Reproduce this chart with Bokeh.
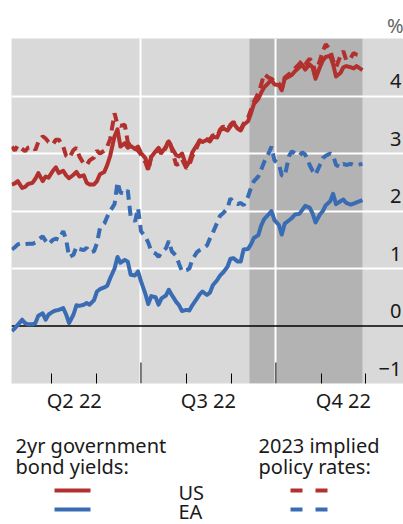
import pandas as pd
from bokeh.plotting import figure
from bokeh.models import Range1d, FixedTicker, BoxAnnotation, Span, ColumnDataSource
from bokeh.layouts import column
from bokeh.embed import file_html
from bokeh.resources import INLINE
from bokeh.core.properties import value

# ---------------- data ----------------
dates = [
    "2022-04-04", "2022-04-06", "2022-04-08",
    "2022-04-11", "2022-04-13", "2022-04-15",
    "2022-04-18", "2022-04-20", "2022-04-22",
    "2022-04-25", "2022-04-27", "2022-04-29",
    "2022-05-02", "2022-05-04", "2022-05-06",
    "2022-05-09", "2022-05-11", "2022-05-13",
    "2022-05-16", "2022-05-18", "2022-05-20",
    "2022-05-23", "2022-05-25", "2022-05-27",
    "2022-05-30", "2022-06-01", "2022-06-03",
    "2022-06-06", "2022-06-08", "2022-06-10",
    "2022-06-13", "2022-06-15", "2022-06-17",
    "2022-06-20", "2022-06-22", "2022-06-24",
    "2022-06-27", "2022-06-29", "2022-07-01",
    "2022-07-04", "2022-07-06", "2022-07-08",
    "2022-07-11", "2022-07-13", "2022-07-15",
    "2022-07-18", "2022-07-20", "2022-07-22",
    "2022-07-25", "2022-07-27", "2022-07-29",
    "2022-08-01", "2022-08-03", "2022-08-05",
    "2022-08-08", "2022-08-10", "2022-08-12",
    "2022-08-15", "2022-08-17", "2022-08-19",
    "2022-08-22", "2022-08-24", "2022-08-26",
    "2022-08-29", "2022-08-31", "2022-09-02",
    "2022-09-05", "2022-09-07", "2022-09-09",
    "2022-09-12", "2022-09-14", "2022-09-16",
    "2022-09-19", "2022-09-21", "2022-09-23",
    "2022-09-26", "2022-09-28", "2022-09-30",
    "2022-10-03", "2022-10-05", "2022-10-07",
    "2022-10-10", "2022-10-12", "2022-10-14",
    "2022-10-17", "2022-10-19", "2022-10-21",
    "2022-10-24", "2022-10-26", "2022-10-28",
    "2022-10-31", "2022-11-02", "2022-11-04",
    "2022-11-07", "2022-11-09", "2022-11-11",
    "2022-11-14", "2022-11-16", "2022-11-18",
    "2022-11-21", "2022-11-23", "2022-11-25",
    "2022-11-29",
]

us_2yr = [
    2.46, 2.48, 2.52, 2.40, 2.42, 2.47, 2.49, 2.56, 2.66, 2.52, 2.60, 2.58,
    2.70, 2.76, 2.66, 2.70, 2.62, 2.57, 2.63, 2.68, 2.60, 2.62, 2.49, 2.46,
    2.46, 2.52, 2.64, 2.68, 2.80, 2.96, 3.30, 3.42, 3.12, 3.18, 3.10, 3.13,
    3.08, 3.12, 3.01, 2.92, 2.74, 2.94, 3.04, 3.10, 3.01, 3.12, 3.21, 3.10,
    2.97, 2.95, 3.00, 2.78, 2.86, 3.02, 3.14, 3.23, 3.20, 3.24, 3.21, 3.29,
    3.28, 3.40, 3.44, 3.40, 3.47, 3.53, 3.43, 3.40, 3.50, 3.56, 3.70, 3.86,
    3.95, 4.06, 4.15, 4.23, 4.28, 4.20, 4.19, 4.10, 4.30, 4.34, 4.37, 4.43,
    4.50, 4.54, 4.46, 4.55, 4.50, 4.30, 4.50, 4.62, 4.68, 4.70, 4.55, 4.34,
    4.40, 4.50, 4.52, 4.50, 4.48, 4.52, 4.45,
]

ea_2yr = [
    -0.09, -0.04, 0.02, 0.11, 0.05, 0.03, 0.03, 0.05, 0.18, 0.22, 0.11, 0.20,
    0.25, 0.27, 0.28, 0.31, 0.20, 0.05, 0.20, 0.36, 0.35, 0.37, 0.40, 0.37,
    0.45, 0.60, 0.64, 0.67, 0.70, 0.83, 1.00, 1.20, 1.10, 1.15, 1.12, 0.89,
    0.88, 0.95, 0.78, 0.56, 0.38, 0.52, 0.50, 0.37, 0.48, 0.53, 0.63, 0.54,
    0.42, 0.36, 0.26, 0.28, 0.27, 0.36, 0.47, 0.55, 0.60, 0.54, 0.58, 0.71,
    0.80, 0.88, 0.93, 1.03, 1.17, 1.18, 1.12, 1.12, 1.33, 1.34, 1.42, 1.53,
    1.58, 1.75, 1.86, 1.94, 2.00, 1.84, 1.76, 1.59, 1.78, 1.84, 1.88, 1.94,
    1.95, 2.02, 2.09, 2.06, 1.96, 1.80, 1.94, 2.00, 2.10, 2.17, 2.30, 2.12,
    2.17, 2.20, 2.14, 2.11, 2.13, 2.15, 2.19,
]

us_2023 = [
    3.12, 3.05, 3.14, 3.08, 3.04, 3.10, 3.12, 3.06, 3.20, 3.30, 3.26, 3.20,
    3.16, 3.24, 3.24, 3.12, 2.96, 2.92, 3.06, 3.10, 2.95, 2.82, 2.80, 2.88,
    2.93, 3.05, 3.00, 3.05, 3.12, 3.25, 3.70, 3.50, 3.48, 3.50, 3.20, 3.12,
    3.08, 3.05, 2.98, 2.85, 2.70, 2.95, 3.02, 3.08, 2.98, 3.10, 3.25, 3.08,
    2.80, 2.82, 2.90, 2.74, 2.80, 2.95, 3.10, 3.22, 3.22, 3.25, 3.24, 3.32,
    3.30, 3.42, 3.47, 3.42, 3.50, 3.55, 3.46, 3.42, 3.52, 3.62, 3.76, 3.90,
    4.05, 4.20, 4.38, 4.32, 4.30, 4.25, 4.22, 4.12, 4.32, 4.38, 4.42, 4.48,
    4.56, 4.62, 4.55, 4.65, 4.58, 4.40, 4.62, 4.78, 4.90, 4.80, 4.62, 4.50,
    4.70, 4.78, 4.62, 4.66, 4.75, 4.72, 4.70,
]

ea_2023 = [
    1.33, 1.37, 1.42, 1.44, 1.42, 1.43, 1.43, 1.45, 1.50, 1.56, 1.48, 1.42,
    1.50, 1.52, 1.50, 1.65, 1.50, 1.20, 1.24, 1.38, 1.34, 1.32, 1.36, 1.28,
    1.30, 1.44, 1.70, 1.78, 1.90, 2.00, 2.12, 2.50, 2.32, 2.30, 2.36, 1.90,
    1.82, 2.05, 1.65, 1.55, 1.45, 1.30, 1.26, 1.20, 1.28, 1.35, 1.48, 1.30,
    1.22, 1.08, 0.95, 0.97, 1.00, 1.15, 1.28, 1.32, 1.35, 1.40, 1.52, 1.62,
    1.80, 1.92, 1.96, 2.05, 2.22, 2.15, 2.12, 2.14, 2.10, 2.25, 2.40, 2.52,
    2.60, 2.72, 2.85, 3.00, 3.12, 2.88, 2.82, 2.62, 2.60, 2.96, 3.04, 3.00,
    2.96, 3.02, 2.98, 2.80, 2.70, 2.63, 2.80, 2.92, 2.96, 3.00, 2.97, 2.80,
    2.76, 2.82, 2.80, 2.82, 2.80, 2.80, 2.82,
]

shade_period = ["2022-09-13", "2022-11-29"]
quarter_starts = ["2022-04-01", "2022-07-01", "2022-10-01", "2023-01-01"]
quarter_labels = ["Q2 22", "Q3 22", "Q4 22"]
month_ticks = ["2022-05-01", "2022-06-01", "2022-08-01", "2022-09-01",
               "2022-11-01", "2022-12-01"]
y_ticks = [4, 3, 2, 1, 0, -1]
y_tick_labels = ["4", "3", "2", "1", "0", "\u22121"]
unit_label = "%"
x_view = ["2022-04-03 17:30", "2022-12-27"]
y_view = [-1, 5]

legend_headers = ["2yr government", "bond yields:"]
legend_headers2 = ["2023 implied", "policy rates:"]
legend_series = ["US", "EA"]

# ---------------- style ----------------
RED = "#B2302D"
BLUE = "#3A6CB3"
FONT = "Noto Sans"
FS = "20px"
LW = 4


def ms(s):
    return pd.Timestamp(s).timestamp() * 1000.0


src = ColumnDataSource(dict(x=pd.to_datetime(dates), us2=us_2yr, ea2=ea_2yr,
                            us23=us_2023, ea23=ea_2023))

W = 403
LEFT = 11
p = figure(width=W, height=428, x_range=Range1d(ms(x_view[0]), ms(x_view[1])),
           y_range=Range1d(y_view[0], y_view[1]),
           toolbar_location=None, output_backend="svg",
           y_axis_location=None, x_axis_location="below",
           min_border_left=LEFT, min_border_right=0, min_border_top=38,
           min_border_bottom=45)
p.background_fill_color = "#D9D9D9"
p.border_fill_color = "white"
p.outline_line_color = None

p.title.text = unit_label
p.title.align = "right"
p.title.text_font = FONT
p.title.text_font_size = FS
p.title.text_font_style = "normal"
p.title.text_color = "#666666"
p.title.standoff = 0
p.title.offset = 0

# shaded period
p.add_layout(BoxAnnotation(left=ms(shade_period[0]), right=ms(shade_period[1]),
                           fill_color="#B3B3B3", fill_alpha=1.0, line_color=None,
                           level="image"))

# grids
p.xgrid.ticker = FixedTicker(ticks=[ms(d) for d in quarter_starts[1:3]])
p.xgrid.grid_line_color = "white"
p.xgrid.grid_line_width = 2
p.ygrid.ticker = FixedTicker(ticks=[t for t in y_ticks if 0 < t < y_view[1]])
p.ygrid.grid_line_color = "white"
p.ygrid.grid_line_width = 2

p.add_layout(Span(location=0, dimension="width", line_color="black",
                  line_width=1.5, level="underlay"))

# lines
p.line("x", "us2", source=src, line_color=RED, line_width=LW, line_join="round")
p.line("x", "ea2", source=src, line_color=BLUE, line_width=LW, line_join="round")
p.line("x", "us23", source=src, line_color=RED, line_width=LW, line_dash="10 6")
p.line("x", "ea23", source=src, line_color=BLUE, line_width=LW, line_dash="10 6")

# x axis: quarter labels at mid-quarter, month ticks inward
mids = [(ms(quarter_starts[i]) + ms(quarter_starts[i + 1])) / 2 for i in range(3)]
ax = p.xaxis[0]
ax.ticker = FixedTicker(ticks=mids, minor_ticks=[ms(d) for d in month_ticks])
ax.major_label_overrides = {m: lab for m, lab in zip(mids, quarter_labels)}
ax.major_tick_line_color = None
ax.major_tick_in = 0
ax.major_tick_out = 0
ax.minor_tick_in = 10
ax.minor_tick_out = 0
ax.minor_tick_line_color = "black"
ax.axis_line_color = None
ax.major_label_text_font = FONT
ax.major_label_text_font_size = FS
ax.major_label_text_color = "#1a1a1a"
ax.major_label_standoff = 3

# longer ticks at quarter boundaries
qb = [ms(d) for d in quarter_starts[1:3]]
tick_len = 21 * (y_view[1] - y_view[0]) / 345.0
p.segment(x0=qb, y0=[y_view[0]] * 2, x1=qb, y1=[y_view[0] + tick_len] * 2,
          line_color="black", line_width=1)

# y tick labels on the right, inside the grey area, sitting above their gridline
p.text(x=[ms(x_view[1])] * len(y_ticks), y=y_ticks, text=y_tick_labels,
       text_align="right", text_baseline="alphabetic", x_offset=-2, y_offset=-15,
       text_font=value(FONT), text_font_size=FS, text_color="#1a1a1a")

# ---------------- legend figure (page pixel coordinates) ----------------
q = figure(width=W, height=96, x_range=(LEFT, W), y_range=(0, 96),
           toolbar_location=None, output_backend="svg",
           x_axis_location=None, y_axis_location=None,
           min_border_left=LEFT, min_border_right=0, min_border_top=0,
           min_border_bottom=0)
q.outline_line_color = None
q.xgrid.visible = False
q.ygrid.visible = False

q.text(x=[15, 15], y=[79, 58], text=legend_headers, text_font=value(FONT),
       text_font_size=FS, text_color="#1a1a1a", text_baseline="alphabetic")
q.text(x=[258, 258], y=[79, 58], text=legend_headers2, text_font=value(FONT),
       text_font_size=FS, text_color="#1a1a1a", text_baseline="alphabetic")
q.text(x=[178, 178], y=[32, 13], text=legend_series, text_font=value(FONT),
       text_font_size=FS, text_color="#1a1a1a", text_baseline="alphabetic")
for yy, col in [(34, RED), (15, BLUE)]:
    q.line(x=[54, 90], y=[yy, yy], line_color=col, line_width=4)
    q.line(x=[290, 328], y=[yy, yy], line_color=col, line_width=4, line_dash="12 13")

layout = column(p, q)
open("out.html", "w").write(file_html(layout, INLINE))
